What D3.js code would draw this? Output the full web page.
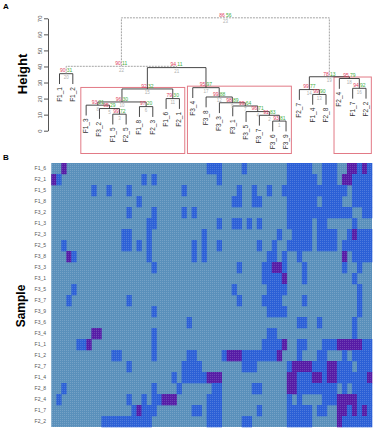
<!DOCTYPE html>
<html>
<head>
<meta charset="utf-8">
<script src="https://cdn.jsdelivr.net/npm/d3@7"></script>
<style>
  body { margin: 0; background: #fff; }
  svg { display: block; font-family: "Liberation Sans", Arial, sans-serif; }
</style>
</head>
<body>
<div id="chart"></div>
<script>
// ---- Panel A: dendrogram (pvclust style) ----
// leaves in plotting order
const leafLabels = ['F1_1','F1_2','F1_3','F3_2','F1_5','F2_5','F1_8','F2_3','F1_6','F2_1',
  'F3_4','F3_8','F3_3','F3_1','F3_5','F3_7','F3_6','F3_9','F2_7','F1_4','F2_8','F2_4','F1_7','F2_2'];

// merges, in order of height (R style: negative = leaf number, positive = earlier merge)
const mergeLeft   = [-17, -16, -5, -15, -4, -7, -14, -3, -13, 8, -9, -12, -20, -19, 10, -23, -11, -22, 14, -1, 15, 20, 22];
const mergeRight  = [-18,   1, -6,   2,  3, -8,   4,  5,   7, 6, -10, 9, -21,  13, 11, -24,  12,  16, 18, -2, 17, 21, 19];
const mergeHeight = [6.0, 9.6, 10.3, 11.9, 13.8, 15.0, 15.4, 15.9, 17.4, 17.9, 20.0, 21.0,
  22.6, 25.6, 26.0, 26.4, 26.8, 32.5, 33.6, 35.5, 39.3, 40.1, 70.3];
const auValues = [93, 91, 99, 96, 95, 97, 99, 93, 98, 96, 79, 99, 99, 99, 92, 94, 95, 95, 78, 90, 94, 90, 86];
const bpValues = [81, 83, 72, 71, 29, 20, 64, 21, 89, 30, 30, 88, 90, 77, 32, 92, 97, 79, 13, 31, 11, 11, 56];
const heightTicks = [0, 10, 20, 30, 40, 50, 60, 70];
// merges boxed by pvrect
const boxedMerges = [15, 17, 18];

// ---- Panel B: heatmap ----
const heatRows = ['F1_6','F2_1','F1_5','F1_8','F3_2','F1_3','F2_3','F2_5','F3_8','F3_3','F3_1','F3_5',
  'F3_7','F3_9','F3_6','F3_4','F1_1','F1_2','F2_7','F1_4','F2_8','F2_4','F1_7','F2_2'];
// one string per row, 64 columns: . = low, b = mid, p = high (spaces only for reading)
const heatCells = [
  '..p..... ........ ........ .......b bb....b. .......b bbbb..bb b..ppbpb',
  'pb...... ........ ..b.b... ........ .b...... .......b bbbbb.bb b.ppbbbb',
  '........ b..b...b ........ ..b..... .....b.. b..b..bb bbbbbbbb bbb.bbbb',
  '........ ........ .b...... ........ ....bb.. bb.....b bbbbb.bb bb..bbbb',
  '........ .......b ....b... ..b.b... ........ .......b bbbbbbbb bbbb..bb',
  '........ ........ ...bb... ........ .b..bb.b .b.....b bbbb.bb. ....b...',
  '........ ......bb ...b.... ......b. ........ .....b.. bbbb.bbb b..bpbbb',
  '..b..... ......bb .b.b.... ....b.b. .b...... .b..b..b bbbb.bbb b.bbbbbb',
  '...pb... ........ ...b.... ....b.b. ........ ...bb.b. .b...... ..p.bbbb',
  '........ ........ ....b... ........ .....b.. ..bbppb. ..b..... ..b..b..',
  '........ ........ ........ ........ ........ ..bbbbp. ..b..... ....b...',
  '....b... ........ ........ ........ ....b... ...bbbb. ........ .....b..',
  '...b.... .......b ........ ........ .....b.. ..bbbb.. ..b..... .....b..',
  '........ ........ ....b... ........ ........ ...bbbb. ........ .....b..',
  '........ ........ ........ ...b.... ........ ........ .bb..b.. ....b...',
  '........ pp...... ....b... ........ ........ ...bb... ........ ....b...',
  '.....bbp ........ ....b... ........ ........ ..bbbbp. .bb...bb bpppppbb',
  '........ ....bb.. ....b... ...bb... ..bpppbb bbbbbp.. .b...bb. ..b.bbbb',
  '........ .......b ........ ..bbbb.. ......bb b......b ppppbbbp pbbb.bbb',
  '........ ........ ........ b.bbbbbp pp...... .......p pbbbppbp pbbbbbbp',
  '..b..... ........ ....b... .b...... bb...... bb.....p pbbbbbbb b.b.bbbb',
  '.b...... .......b ..b.bbpp p......b bb...... .......b .b....bb bppppbbb',
  '........ ........ bpbbb... ....bb.b bb...... .b.....b bbbb.bb. .ppbpbpb',
  '........ ..bbbbbb bbbb.... .......b bb....bb .......b bbbb.... .pbbbbbb'
];
const levelColors = { '.': '#5a90bb', 'b': '#2c60d6', 'p': '#561ca6' };

const W = 375, H = 429;
const svg = d3.select('#chart').append('svg').attr('width', W).attr('height', H);

// fine dot texture used over the heatmap
const pat = svg.append('defs').append('pattern')
    .attr('id', 'dots').attr('width', 2).attr('height', 2)
    .attr('patternUnits', 'userSpaceOnUse');
pat.append('rect').attr('width', 1).attr('height', 1).attr('fill', '#fff').attr('fill-opacity', 0.16);

// panel letters
svg.append('text').attr('x', 3).attr('y', 9).style('font-size', '8px').style('font-weight', 'bold').text('A');
svg.append('text').attr('x', 3).attr('y', 160).style('font-size', '8px').style('font-weight', 'bold').text('B');

// scales for the dendrogram
const xLeaf = d3.scaleLinear().domain([0, leafLabels.length - 1]).range([59.5, 366]);
const yH = d3.scaleLinear().domain([0, 70]).range([130.7, 18.3]);
const hang = 0.1 * (d3.max(mergeHeight) - d3.min(mergeHeight));

// y axis
const yAxis = svg.append('g')
    .attr('transform', 'translate(48,0)')
    .call(d3.axisLeft(yH).tickValues(heightTicks).tickSize(4).tickSizeOuter(0).tickFormat(''));
yAxis.selectAll('path, line').attr('stroke', '#555');
yAxis.selectAll('.tick').append('text')
    .attr('transform', 'translate(-6.5,0) rotate(-90)')
    .attr('text-anchor', 'middle')
    .attr('fill', '#555')
    .style('font-size', '6px')
    .text(d => d);

svg.append('text')
    .attr('transform', 'translate(27,74) rotate(-90)')
    .attr('text-anchor', 'middle')
    .style('font-size', '13px').style('font-weight', 'bold')
    .text('Height');

// node positions
const nodes = [];
mergeLeft.forEach((l, i) => {
    const r = mergeRight[i];
    const h = mergeHeight[i];
    const child = ref => ref < 0
        ? { x: xLeaf(-ref - 1), y: yH(h - hang), leaf: -ref - 1 }
        : { x: nodes[ref - 1].x, y: nodes[ref - 1].y };
    const a = child(l), b = child(r);
    nodes.push({ x: (a.x + b.x) / 2, y: yH(h), a: a, b: b, h: h });
});

// pvrect boxes
boxedMerges.forEach(m => {
    const leaves = [];
    (function walk(ref) {
        if (ref < 0) leaves.push(-ref - 1);
        else { walk(mergeLeft[ref - 1]); walk(mergeRight[ref - 1]); }
    })(m);
    const x0 = xLeaf(d3.min(leaves) - 0.4), x1 = xLeaf(d3.max(leaves) + 0.4);
    svg.append('rect')
        .attr('x', x0).attr('y', nodes[m - 1].y - 1.5)
        .attr('width', Math.min(x1, 374) - x0).attr('height', 153.5 - nodes[m - 1].y + 1.5)
        .attr('fill', 'none').attr('stroke', '#e27a86').attr('stroke-width', 1);
});

// branches
nodes.forEach(n => {
    svg.append('path')
        .attr('d', `M${n.a.x},${n.a.y}V${n.y}H${n.b.x}V${n.b.y}`)
        .attr('fill', 'none')
        .attr('stroke', n.h > 40 ? '#9a9a9a' : '#333')
        .attr('stroke-dasharray', n.h > 40 ? '2,1' : null)
        .attr('stroke-width', 0.9);
});

// leaf labels
nodes.forEach(n => {
    [n.a, n.b].filter(c => c.leaf !== undefined).forEach(c => {
        svg.append('text')
            .attr('transform', `translate(${c.x + 2},${c.y + 3}) rotate(-90)`)
            .attr('text-anchor', 'end')
            .attr('fill', '#333')
            .style('font-size', '6.5px')
            .text(leafLabels[c.leaf]);
    });
});

// au / bp / edge numbers
nodes.forEach((n, i) => {
    svg.append('text').attr('x', n.x - 0.6).attr('y', n.y - 1.2)
        .attr('text-anchor', 'end').attr('fill', '#e0405e').style('font-size', '5px').text(auValues[i]);
    svg.append('text').attr('x', n.x + 0.6).attr('y', n.y - 1.2)
        .attr('text-anchor', 'start').attr('fill', '#3fae3f').style('font-size', '5px').text(bpValues[i]);
    svg.append('text').attr('x', n.x).attr('y', n.y + 5.5)
        .attr('text-anchor', 'middle').attr('fill', '#b0b0b0').style('font-size', '4.5px').text(i + 1);
});

// ---- heatmap ----
const grid = heatCells.map(s => s.replace(/ /g, '').split(''));
const xCol = d3.scaleBand().domain(d3.range(grid[0].length)).range([51.3, 372]);
const yRow = d3.scaleBand().domain(heatRows).range([163, 427]);

const [hx0, hx1] = xCol.range(), [hy0, hy1] = yRow.range();
svg.append('rect')
    .attr('x', hx0).attr('y', hy0).attr('width', hx1 - hx0).attr('height', hy1 - hy0)
    .attr('fill', levelColors['.']);

const rowG = svg.append('g').selectAll('g')
    .data(heatRows)
    .join('g')
    .attr('transform', d => `translate(0,${yRow(d)})`);

rowG.selectAll('rect')
    .data((d, i) => grid[i].map((v, j) => ({ v: v, j: j })).filter(c => c.v !== '.'))
    .join('rect')
    .attr('x', c => xCol(c.j))
    .attr('y', 0)
    .attr('width', xCol.bandwidth() + 0.3)
    .attr('height', yRow.bandwidth() + 0.3)
    .attr('fill', c => levelColors[c.v]);

svg.append('rect')
    .attr('x', hx0).attr('y', hy0).attr('width', hx1 - hx0).attr('height', hy1 - hy0)
    .attr('fill', 'url(#dots)');

svg.append('g').selectAll('text')
    .data(heatRows)
    .join('text')
    .attr('x', 46)
    .attr('y', d => yRow(d) + yRow.bandwidth() / 2)
    .attr('dy', '0.35em')
    .attr('text-anchor', 'end')
    .attr('fill', '#555')
    .style('font-size', '5px')
    .text(d => d);

svg.append('text')
    .attr('transform', 'translate(25,306) rotate(-90)')
    .attr('text-anchor', 'middle')
    .style('font-size', '12px').style('font-weight', 'bold')
    .text('Sample');
</script>
</body>
</html>
